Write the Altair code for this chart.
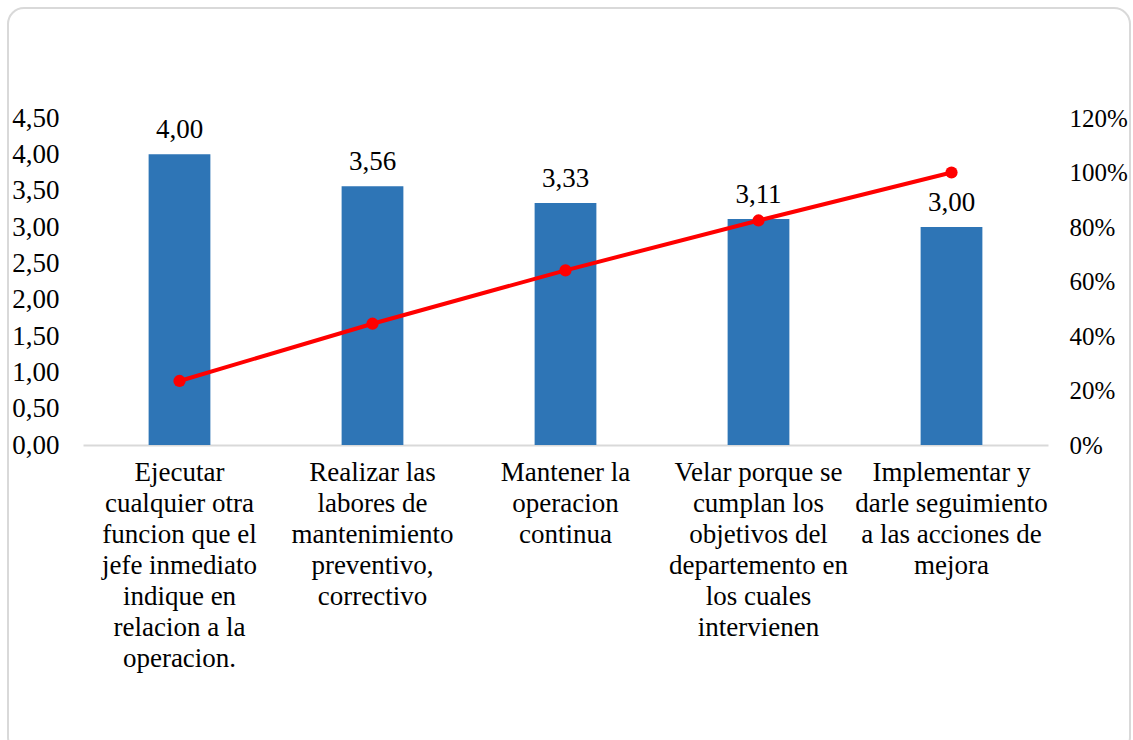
import altair as alt
import pandas as pd

categories = [
    "Ejecutar|cualquier otra|funcion que el|jefe inmediato|indique en|relacion a la|operacion.",
    "Realizar las|labores de|mantenimiento|preventivo,|correctivo",
    "Mantener la|operacion|continua",
    "Velar porque se|cumplan los|objetivos del|departemento en|los cuales|intervienen",
    "Implementar y|darle seguimiento|a las acciones de|mejora",
]
values = [4.00, 3.56, 3.33, 3.11, 3.00]
cumulative_pct = [0.235, 0.445, 0.641, 0.824, 1.00]

df = pd.DataFrame({"cat": categories, "val": values, "cum": cumulative_pct})
FONT = "Liberation Serif"
FS = 27

base = alt.Chart(df).encode(
    x=alt.X("cat:N", sort=None, title=None,
            scale=alt.Scale(paddingInner=0.68, paddingOuter=0.34),
            axis=alt.Axis(labelExpr="split(datum.label, '|')", labelAngle=0,
                          labelFontSize=FS, labelLineHeight=31, labelFont=FONT,
                          labelColor="#000000", labelPadding=14, labelBaseline="top",
                          ticks=False, domainColor="#D9D9D9", domainWidth=2,
                          labelLimit=300))
)

y_left = alt.Y("val:Q", title=None, scale=alt.Scale(domain=[0, 4.5]),
               axis=alt.Axis(values=[0, 0.5, 1, 1.5, 2, 2.5, 3, 3.5, 4, 4.5],
                             labelExpr="replace(format(datum.value, '.2f'), '.', ',')",
                             labelFontSize=FS, labelFont=FONT, labelColor="#000000",
                             labelPadding=24, ticks=False, domain=False, grid=False))

bars = base.mark_bar(color="#2E75B6").encode(y=y_left)

bar_text = base.mark_text(dy=-24, fontSize=FS, font=FONT, color="#000000").transform_calculate(
    lab="replace(format(datum.val, '.2f'), '.', ',')"
).encode(y=y_left, text="lab:N")

left = alt.layer(bars, bar_text)

line = base.mark_line(color="#FF0000", strokeWidth=4,
                      point=alt.OverlayMarkDef(color="#FF0000", size=150, filled=True, opacity=1)).encode(
    y=alt.Y("cum:Q", title=None, scale=alt.Scale(domain=[0, 1.2]),
            axis=alt.Axis(orient="right", values=[0, 0.2, 0.4, 0.6, 0.8, 1.0, 1.2], format=".0%",
                          labelFontSize=25, labelFont=FONT, labelColor="#000000",
                          labelPadding=21, ticks=False, domain=False, grid=False))
)

frame = alt.Chart(pd.DataFrame({"a": [0]})).mark_rect(
    fill=None, stroke="#D9D9D9", strokeWidth=2, cornerRadius=16
).encode(x=alt.value(-75), x2=alt.value(1047), y=alt.value(-110), y2=alt.value(635))

chart = alt.layer(frame, left, line).resolve_scale(y="independent").properties(
    width=965, height=327,
    autosize=alt.AutoSizeParams(type="none"),
    padding={"left": 83, "top": 118, "right": 85, "bottom": 295},
    background="#FFFFFF",
).configure_view(stroke=None).configure_axis(
    labelFont=FONT, labelColor="#000000"
).configure_text(font=FONT)

chart.save("out.html", embed_options={"renderer": "svg", "actions": False})
